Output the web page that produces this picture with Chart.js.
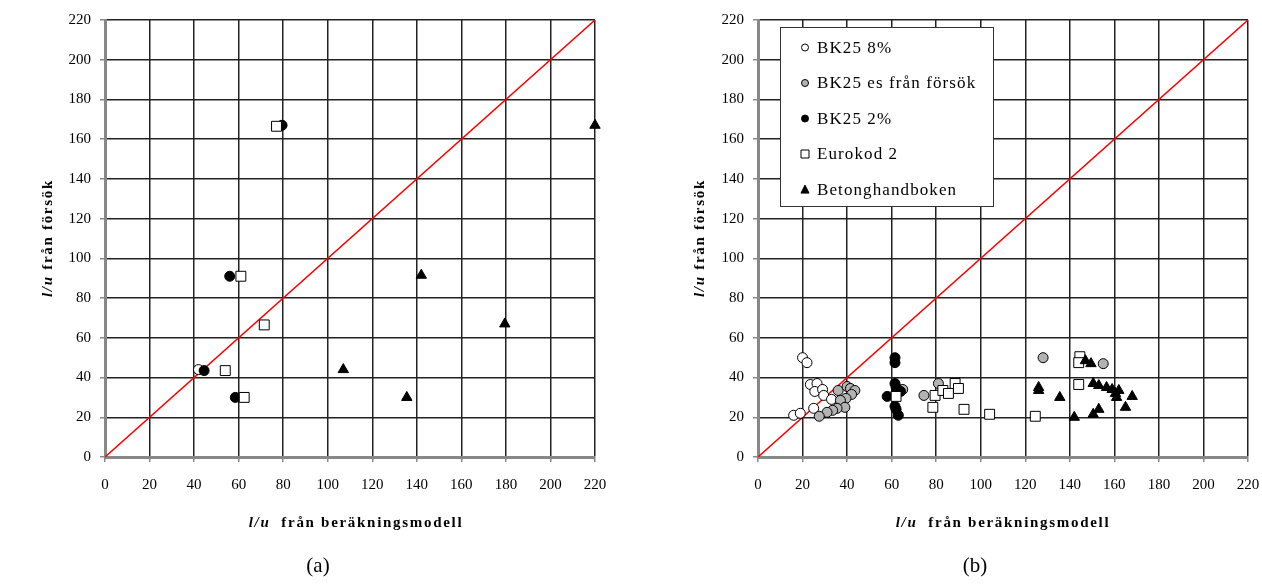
<!DOCTYPE html>
<html>
<head>
<meta charset="utf-8">
<script src="https://cdn.jsdelivr.net/npm/chart.js@4.4.0/dist/chart.umd.min.js"></script>
<style>
  body { margin:0; background:#fff; width:1262px; height:584px; position:relative; overflow:hidden; font-family:'Liberation Serif', serif; color:#000; }
  canvas { position:absolute; top:0; }
  .xt { position:absolute; top:514px; width:400px; text-align:center; font-weight:bold; font-size:15px; letter-spacing:1.7px; white-space:nowrap; }
  .yt { position:absolute; top:229px; width:200px; height:18px; text-align:center; font-weight:bold; font-size:15px; letter-spacing:1.7px; white-space:nowrap; transform:rotate(-90deg); }
  .cap { position:absolute; top:553px; width:60px; text-align:center; font-size:21px; }
</style>
</head>
<body>
<canvas id="chartA" width="631" height="584" style="left:0"></canvas>
<canvas id="chartB" width="631" height="584" style="left:631px"></canvas>

<div class="xt" style="left:156px"><i>l/u</i>&nbsp; från beräkningsmodell</div>
<div class="xt" style="left:803px"><i>l/u</i>&nbsp; från beräkningsmodell</div>
<div class="yt" style="left:-52px"><i>l/u</i> från försök</div>
<div class="yt" style="left:600px"><i>l/u</i> från försök</div>
<div class="cap" style="left:288px">(a)</div>
<div class="cap" style="left:945px">(b)</div>

<script>
// axis ticks
const tickMin = 0, tickMax = 220, tickStep = 20;
// 1:1 reference line
const lineX = [0, 220], lineY = [0, 220];

// (a) - one point per beam and method
const aOpenX = [42], aOpenY = [44];
const aFilledX = [44.5, 58.5, 56, 79.5], aFilledY = [43.5, 30, 91, 167];
const aSquareX = [54, 62.5, 61, 77, 71.5], aSquareY = [43.5, 30, 91, 166.5, 66.5];
const aTriX = [107, 135.5, 179.5, 142, 220], aTriY = [44, 30, 67, 91.5, 167];

// (b)
const bLabels = ['BK25 8%', 'BK25 es från försök', 'BK25 2%', 'Eurokod 2', 'Betonghandboken'];
const b8X = [20, 22, 23.5, 26.5, 25.5, 29, 29.5, 33, 25, 16, 19];
const b8Y = [50, 47.5, 36.5, 37, 33, 34, 31, 29, 24.5, 21, 22];
const besX = [36, 40, 41.5, 43.5, 42, 39.5, 37, 39, 35.5, 33.5, 31, 27.5, 65, 74.5, 81, 128, 155];
const besY = [33.5, 35.5, 34.5, 33.5, 31.5, 29.5, 28.5, 25, 24.5, 23.5, 22.5, 20.5, 34, 31, 37, 50, 47];
const b2X = [61.5, 61.5, 61.5, 62, 58, 62, 61.5, 62, 63, 64];
const b2Y = [50, 47.5, 37, 35, 30.5, 32.5, 25.5, 24, 21, 33];
const ecX = [62, 79.5, 78.5, 83, 85.5, 88.5, 90, 92.5, 104, 124.5, 144.5, 144, 144];
const ecY = [30.5, 31, 25, 33.5, 32, 37, 34.5, 24, 21.5, 20.5, 50.5, 47.5, 36.5];
const bhX = [126, 126, 135.5, 142, 147, 149.5, 150.5, 153, 153, 150.5, 156.5, 159, 160.5, 161, 162, 165, 168];
const bhY = [35, 33.5, 30, 20, 48.5, 47, 37, 36, 24, 21.5, 35, 34, 32, 30, 33.5, 25, 30.5];

function pts(xs, ys) {
  return xs.map((x, i) => ({ x: x, y: ys[i] }));
}

// marker styles in legend order
const marks = [
  { pointStyle: 'circle', bg: '#fff', r: 5 },
  { pointStyle: 'circle', bg: '#b3b3b3', r: 5 },
  { pointStyle: 'circle', bg: '#000', r: 5 },
  { pointStyle: 'rect', bg: '#fff', r: 7 },
  { pointStyle: 'triangle', bg: '#000', r: 6 }
];

function pointSet(label, data, m) {
  return {
    label: label, data: data, pointStyle: m.pointStyle, pointRadius: m.r,
    backgroundColor: m.bg, borderColor: '#000', borderWidth: 1, showLine: false, clip: false
  };
}

function diagSet() {
  return {
    label: '1:1', data: pts(lineX, lineY), showLine: true, borderColor: '#ff0000',
    borderWidth: 1.5, pointRadius: 0
  };
}

const tickFont = { family: 'Liberation Serif', size: 15 };

function scales(yWidth) {
  const grid = { color: '#222', lineWidth: 1.5, tickLength: 5, tickColor: '#888' };
  const border = { color: '#888', width: 3 };
  return {
    x: {
      type: 'linear', min: tickMin, max: tickMax,
      ticks: { stepSize: tickStep, color: '#000', font: tickFont, padding: 14, maxRotation: 0 },
      grid: grid, border: border,
      afterFit: s => { s.height = 127; s.paddingLeft = 0; s.paddingRight = 0; }
    },
    y: {
      type: 'linear', min: tickMin, max: tickMax,
      ticks: { stepSize: tickStep, color: '#000', font: tickFont, padding: 9 },
      grid: grid, border: border,
      afterFit: s => { s.width = yWidth; s.paddingTop = 0; s.paddingBottom = 0; }
    }
  };
}

function drawMark(ctx, style, x, y, r, fill) {
  ctx.beginPath();
  if (style === 'circle') {
    ctx.arc(x, y, r, 0, Math.PI * 2);
  } else if (style === 'rect') {
    ctx.rect(x - r, y - r, 2 * r, 2 * r);
  } else {
    ctx.moveTo(x, y - r * 1.1);
    ctx.lineTo(x + r, y + r * 0.9);
    ctx.lineTo(x - r, y + r * 0.9);
    ctx.closePath();
  }
  ctx.fillStyle = fill;
  ctx.fill();
  ctx.strokeStyle = '#000';
  ctx.lineWidth = 1;
  ctx.stroke();
}

// legend box inside the plot of (b)
const legendBox = {
  id: 'legendBox',
  afterDatasetsDraw(chart) {
    const ctx = chart.ctx;
    ctx.save();
    ctx.fillStyle = '#fff';
    ctx.fillRect(149, 27, 213, 179);
    ctx.strokeStyle = '#333';
    ctx.lineWidth = 1;
    ctx.strokeRect(149.5, 27.5, 213, 179);
    ctx.font = '17px "Liberation Serif"';
    ctx.letterSpacing = '1.1px';
    ctx.textBaseline = 'middle';
    bLabels.forEach((lab, i) => {
      const y = 47.5 + i * 35.5;
      const m = marks[i];
      const r = m.pointStyle === 'circle' ? 3.5 : 4;
      drawMark(ctx, m.pointStyle, 174, y, r, m.bg);
      ctx.fillStyle = '#000';
      ctx.fillText(lab, 186, y + 1);
    });
    ctx.restore();
  }
};

Chart.defaults.animation = false;

new Chart(document.getElementById('chartA'), {
  type: 'scatter',
  data: {
    datasets: [
      pointSet('Betonghandboken', pts(aTriX, aTriY), marks[4]),
      pointSet('Eurokod 2', pts(aSquareX, aSquareY), marks[3]),
      pointSet('BK25 2%', pts(aFilledX, aFilledY), marks[2]),
      pointSet('BK25 8%', pts(aOpenX, aOpenY), marks[0]),
      diagSet()
    ]
  },
  options: {
    responsive: false,
    layout: { padding: { top: 20, right: 36, left: 0, bottom: 0 } },
    plugins: { legend: { display: false }, tooltip: { enabled: false } },
    scales: scales(105)
  }
});

new Chart(document.getElementById('chartB'), {
  type: 'scatter',
  data: {
    datasets: [
      pointSet(bLabels[4], pts(bhX, bhY), marks[4]),
      pointSet(bLabels[3], pts(ecX, ecY), marks[3]),
      pointSet(bLabels[2], pts(b2X, b2Y), marks[2]),
      pointSet(bLabels[1], pts(besX, besY), marks[1]),
      pointSet(bLabels[0], pts(b8X, b8Y), marks[0]),
      diagSet()
    ]
  },
  options: {
    responsive: false,
    layout: { padding: { top: 20, right: 14, left: 0, bottom: 0 } },
    plugins: { legend: { display: false }, tooltip: { enabled: false } },
    scales: scales(127)
  },
  plugins: [legendBox]
});
</script>
</body>
</html>
